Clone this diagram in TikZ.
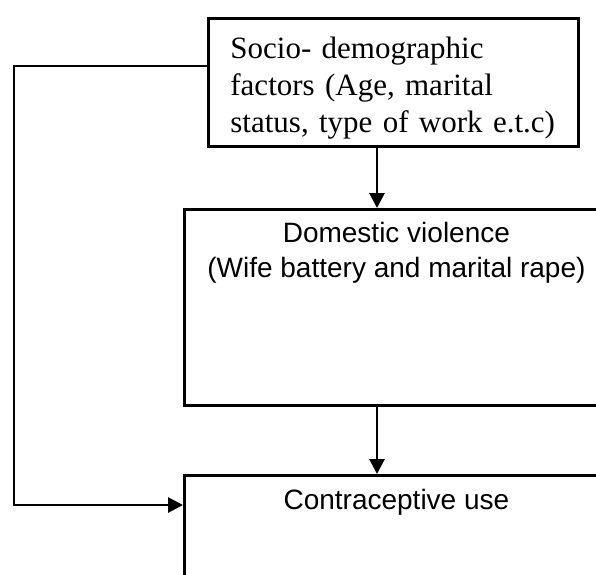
\documentclass[tikz,border=0pt]{standalone}
\usepackage{fontspec}
\setmainfont{Liberation Serif}
\newfontfamily\arialfont{Liberation Sans}
\usetikzlibrary{arrows.meta}

\begin{document}
\begin{tikzpicture}[x = 1pt, y = -1pt, line width = 2.8pt,
        box/.style = {draw, rectangle, anchor = north west, inner sep = 0pt},
        boxtext/.style = {font = \arialfont\fontsize{28}{35}\selectfont, align = center, inner sep = 0pt, anchor = north},
        sociotext/.style = {font = \fontsize{31}{37}\selectfont, align = left, text width = 340pt, inner sep = 0pt, anchor = north west},
        arrow/.style = {-{Triangle[length = 15pt, width = 15pt]}}]
        \useasboundingbox (0,0) rectangle (596,574);

        \node [box, minimum width = 370pt, minimum height = 128pt,
            label = {[sociotext, xshift = 22pt, yshift = -19pt]north west:{Socio- demographic\\factors (Age, marital\\status, type of work e.t.c)}}] (socio) at (207,17) {};

        \node [box, minimum width = 424pt, minimum height = 196pt,
            label = {[boxtext, yshift = -13pt]north:{Domestic violence\\(Wife battery and marital rape)}}] (violence) at (183,208) {};

        \node [box, minimum width = 424pt, minimum height = 140pt,
            label = {[boxtext, yshift = -14pt]north:{Contraceptive use}}] (use) at (183,474) {};

        \coordinate (mid) at (377,0);
        \coordinate (top) at (14,66);
        \coordinate (bottom) at (14,505);

        \draw [arrow] (socio.south -| mid) -- (violence.north -| mid);
        \draw [arrow] (violence.south -| mid) -- (use.north -| mid);
        \draw [arrow] (socio.west |- top) -- (top) -- (bottom) -- (bottom -| use.west);
    \end{tikzpicture}
\end{document}
